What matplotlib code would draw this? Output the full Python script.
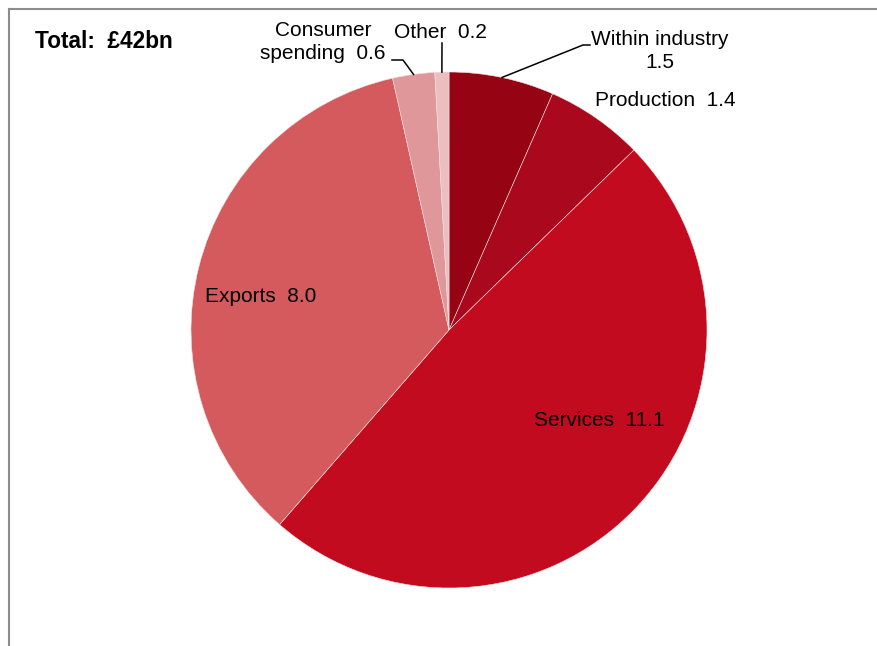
import numpy as np
import matplotlib
matplotlib.use("Agg")
import matplotlib.pyplot as plt
from matplotlib.lines import Line2D

plt.rcParams["font.family"] = ["Liberation Sans", "DejaVu Sans"]

categories = ["Within industry", "Production", "Services", "Exports",
              "Consumer spending", "Other"]
values = [1.5, 1.4, 11.1, 8.0, 0.6, 0.2]
colors = ["#960414", "#AA081C", "#C30B20", "#D45A5D", "#DF979A", "#EBBEC0"]
total_label = "Total:  £42bn"

W, H = 877, 646
fig = plt.figure(figsize=(W / 100, H / 100), dpi=100)

# pie placement in pixels (centre and radius)
cx, cy, r = 449, 330, 258
ax = fig.add_axes([(cx - r) / W, (H - cy - r) / H, 2 * r / W, 2 * r / H])

wedges, _ = ax.pie(values, colors=colors, startangle=90, counterclock=False,
                   radius=1, center=(0, 0), frame=False,
                   wedgeprops=dict(edgecolor="#f4e0e0", linewidth=0.4))
ax.set_xlim(-1, 1)
ax.set_ylim(-1, 1)
ax.set_aspect("equal")
ax.axis("off")


def px(x, y):
    """pixel position (from top-left) -> pie data coordinates"""
    return (x - cx) / r, (cy - y) / r


def edge_point(i):
    w = wedges[i]
    mid = np.deg2rad((w.theta1 + w.theta2) / 2)
    return np.cos(mid), np.sin(mid)


fs = 15
txt = dict(fontsize=fs, color="black", clip_on=False)

# Within industry (outside, leader line)
ax.text(*px(660, 51), f"{categories[0]}\n{values[0]:.1f}", ha="center",
        va="center", linespacing=1.22, **txt)
x0, y0 = edge_point(0)
p1 = px(583, 45)
p2 = px(590, 45)
ax.add_line(Line2D([x0, p1[0], p2[0]], [y0, p1[1], p2[1]], color="black",
                   lw=1.1, clip_on=False))

# Production
ax.text(*px(595, 101), f"{categories[1]}  {values[1]:.1f}", ha="left",
        va="center", **txt)

# Services
ax.text(*px(599, 420), f"{categories[2]}  {values[2]:.1f}", ha="center",
        va="center", **txt)

# Exports
ax.text(*px(261, 296), f"{categories[3]}  {values[3]:.1f}", ha="center",
        va="center", **txt)

# Consumer spending
ax.text(*px(323, 42), f"Consumer\nspending  {values[4]:.1f}", ha="center",
        va="center", linespacing=1.32, **txt)
x0, y0 = edge_point(4)
p1 = px(403, 60)
p2 = px(392, 60)
ax.add_line(Line2D([x0, p1[0], p2[0]], [y0, p1[1], p2[1]], color="black",
                   lw=1.1, clip_on=False))

# Other
ax.text(*px(440, 32), f"{categories[5]}  {values[5]:.1f}", ha="center",
        va="center", **txt)
x0, y0 = edge_point(5)
p1 = px(442, 43)
ax.add_line(Line2D([x0, p1[0]], [y0, p1[1]], color="black", lw=1.1,
                   clip_on=False))

# total
fig.text(35 / W, 1 - 42 / H, total_label, ha="left", va="center",
         fontsize=16.3, fontweight="bold")

# frame lines along top and left
fig.add_artist(Line2D([8.5 / W, 1], [1 - 8.5 / H, 1 - 8.5 / H],
                      transform=fig.transFigure, color="#8c8c8c", lw=1.5))
fig.add_artist(Line2D([8.5 / W, 8.5 / W], [0, 1 - 8.5 / H],
                      transform=fig.transFigure, color="#8c8c8c", lw=1.5))

fig.savefig("out.png", dpi=100, facecolor="white")
